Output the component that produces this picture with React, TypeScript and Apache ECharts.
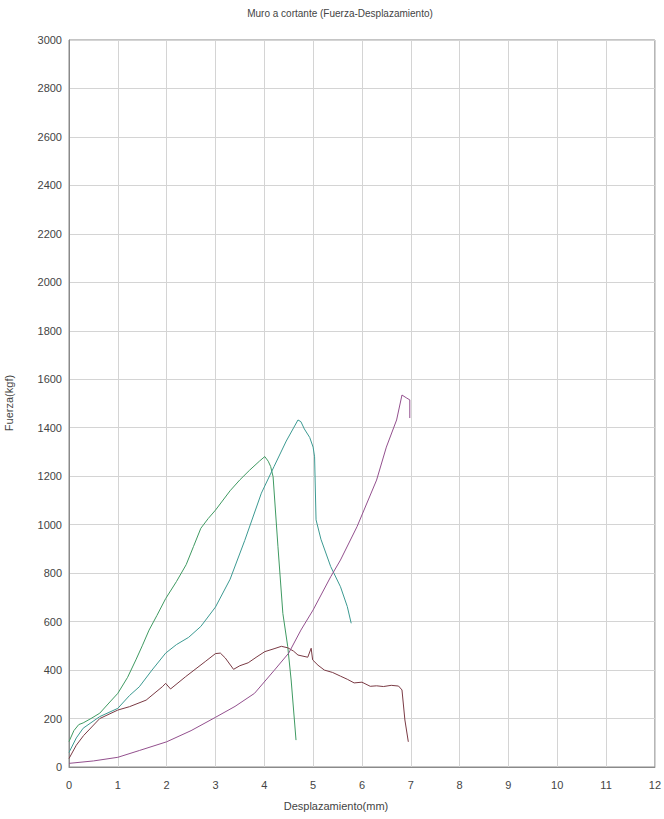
import React, { useEffect, useRef } from "react";
import * as echarts from "echarts";

// Desplazamiento (mm) vs Fuerza (kgf) for each specimen
const ensayo1: [number, number][] = [
  [0, 105], [0.1, 150], [0.2, 175], [0.29, 182], [0.45, 200], [0.63, 222], [0.8, 260],
  [1.0, 304], [1.2, 370], [1.37, 442], [1.5, 500], [1.64, 565], [1.8, 625], [1.98, 695],
  [2.2, 765], [2.4, 835], [2.55, 910], [2.7, 985], [2.85, 1025], [3.0, 1060], [3.3, 1140],
  [3.5, 1185], [3.7, 1225], [3.9, 1262], [4.01, 1281], [4.08, 1262], [4.13, 1240],
  [4.18, 1198], [4.28, 909], [4.38, 634], [4.48, 497], [4.55, 359], [4.65, 111],
];

const ensayo2: [number, number][] = [
  [0, 60], [0.15, 120], [0.29, 160], [0.63, 208], [1.0, 242], [1.24, 295], [1.44, 331],
  [1.7, 400], [1.98, 470], [2.2, 505], [2.45, 535], [2.7, 580], [3.0, 660], [3.3, 775],
  [3.6, 935], [3.94, 1130], [4.2, 1240], [4.45, 1345], [4.69, 1432], [4.75, 1425],
  [4.82, 1395], [4.93, 1360], [5.0, 1320], [5.03, 1280], [5.06, 1020], [5.16, 940],
  [5.36, 827], [5.56, 744], [5.7, 662], [5.78, 593],
];

const ensayo3: [number, number][] = [
  [0, 35], [0.15, 90], [0.3, 130], [0.63, 200], [1.0, 235], [1.24, 249], [1.58, 276],
  [1.91, 331], [1.98, 345], [2.08, 322], [2.39, 373], [2.79, 435], [3.0, 468], [3.1, 470],
  [3.2, 450], [3.37, 403], [3.5, 418], [3.67, 430], [3.85, 455], [4.01, 476], [4.2, 488],
  [4.35, 498], [4.48, 492], [4.6, 478], [4.69, 462], [4.89, 453], [4.96, 490], [4.99, 442],
  [5.1, 420], [5.23, 400], [5.4, 390], [5.56, 375], [5.7, 362], [5.84, 347], [6.0, 350],
  [6.17, 333], [6.3, 335], [6.44, 332], [6.6, 337], [6.75, 334], [6.82, 318], [6.88, 194],
  [6.95, 104],
];

const ensayo4: [number, number][] = [
  [0, 15], [0.5, 25], [1.0, 40], [1.44, 68], [2.0, 104], [2.5, 150], [3.0, 205],
  [3.4, 250], [3.8, 304], [4.2, 398], [4.5, 470], [4.75, 565], [5.0, 648],
  [5.36, 785], [5.56, 854], [5.9, 992], [6.3, 1184], [6.5, 1320], [6.71, 1432],
  [6.82, 1535], [6.92, 1522], [6.98, 1515], [6.98, 1440],
];

const seriesColors = ["#3f9a62", "#3c9a92", "#7a3a44", "#93508e"];
const seriesData = [ensayo1, ensayo2, ensayo3, ensayo4];

const xTicks = { min: 0, max: 12, step: 1 };
const yTicks = { min: 0, max: 3000, step: 200 };

const chartTitle = "Muro a cortante (Fuerza-Desplazamiento)";
const xName = "Desplazamiento(mm)";
const yName = "Fuerza(kgf)";

export default function App() {
  const ref = useRef<HTMLDivElement>(null);

  useEffect(() => {
    if (!ref.current) return;
    const chart = echarts.init(ref.current, null, { renderer: "svg" });
    const font = "Liberation Sans, Arial, sans-serif";
    chart.setOption({
      animation: false,
      backgroundColor: "#ffffff",
      grid: {
        left: 69,
        right: 4,
        top: 40,
        bottom: 52,
        show: true,
        borderColor: "#8a8a8a",
        borderWidth: 1,
      },
      xAxis: {
        type: "value",
        min: xTicks.min,
        max: xTicks.max,
        interval: xTicks.step,
        axisLine: { show: true, lineStyle: { color: "#8a8a8a", width: 1 } },
        axisTick: { show: false },
        axisLabel: {
          color: "#444",
          fontSize: 11,
          fontFamily: font,
          margin: 12,
          formatter: (v: number) => String(v),
        },
        splitLine: { show: true, lineStyle: { color: "#d4d4d4", width: 1 } },
      },
      yAxis: {
        type: "value",
        min: yTicks.min,
        max: yTicks.max,
        interval: yTicks.step,
        axisLine: { show: true, lineStyle: { color: "#8a8a8a", width: 1 } },
        axisTick: { show: false },
        axisLabel: {
          color: "#444",
          fontSize: 11,
          fontFamily: font,
          margin: 7,
          formatter: (v: number) => String(v),
        },
        splitLine: { show: true, lineStyle: { color: "#d4d4d4", width: 1 } },
      },
      series: seriesData.map((d, i) => ({
        type: "line",
        data: d,
        showSymbol: false,
        symbol: "none",
        smooth: false,
        lineStyle: { color: seriesColors[i], width: 1 },
        silent: true,
      })),
      graphic: [
        {
          type: "text",
          x: 340,
          y: 13,
          style: {
            text: chartTitle,
            fill: "#444",
            font: `10px ${font}`,
            align: "center",
            verticalAlign: "middle",
          },
        },
        {
          type: "text",
          x: 336,
          y: 806,
          style: {
            text: xName,
            fill: "#444",
            font: `11px ${font}`,
            align: "center",
            verticalAlign: "middle",
          },
        },
        {
          type: "text",
          x: 9,
          y: 403,
          rotation: Math.PI / 2,
          style: {
            text: yName,
            fill: "#444",
            font: `11px ${font}`,
            align: "center",
            verticalAlign: "middle",
          },
        },
      ],
    });
    return () => chart.dispose();
  }, []);

  return (
    <div
      ref={ref}
      style={{ position: "fixed", left: 0, top: 0, width: 664, height: 819, background: "#fff" }}
    />
  );
}
